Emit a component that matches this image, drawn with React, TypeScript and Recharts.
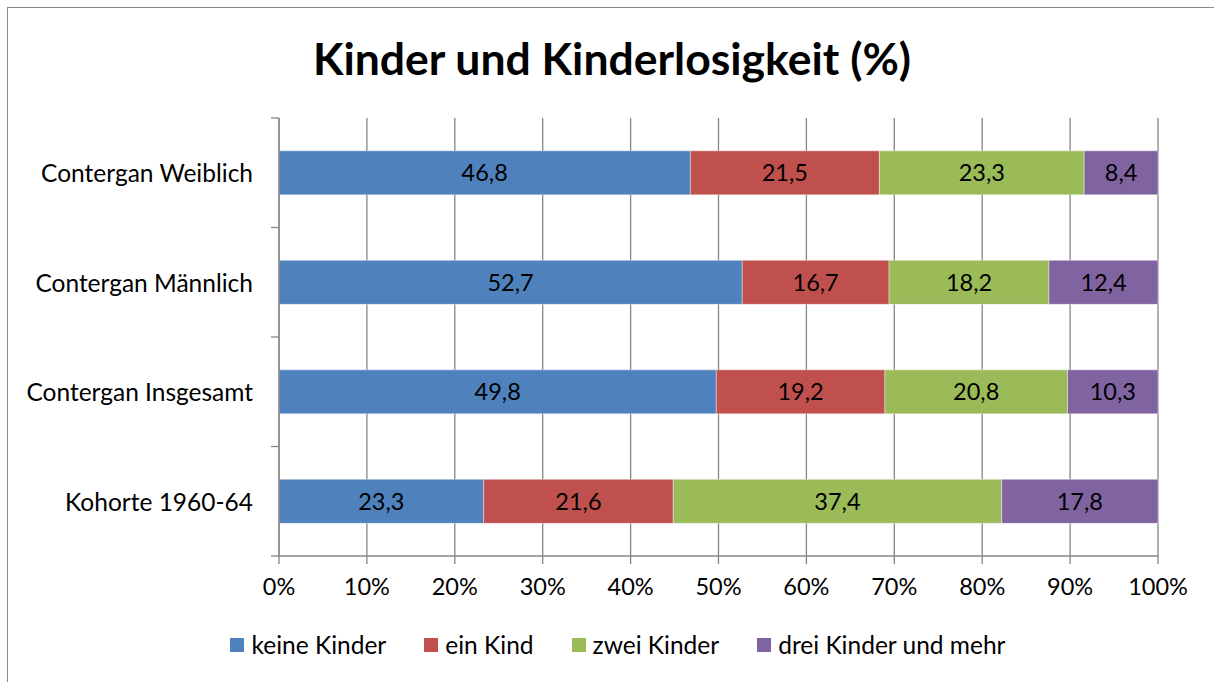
import React from 'react';
import {
  BarChart,
  Bar,
  XAxis,
  YAxis,
  CartesianGrid,
  Legend,
  LabelList,
} from 'recharts';

const categories = [
  'Contergan Weiblich',
  'Contergan Männlich',
  'Contergan Insgesamt',
  'Kohorte 1960-64',
];
const keineKinder = [46.8, 52.7, 49.8, 23.3];
const einKind = [21.5, 16.7, 19.2, 21.6];
const zweiKinder = [23.3, 18.2, 20.8, 37.4];
const dreiUndMehr = [8.4, 12.4, 10.3, 17.8];
const percentTicks = [0, 0.1, 0.2, 0.3, 0.4, 0.5, 0.6, 0.7, 0.8, 0.9, 1];

const series = [
  { key: 'keine', name: 'keine Kinder', color: '#4F81BD' },
  { key: 'ein', name: 'ein Kind', color: '#C0504D' },
  { key: 'zwei', name: 'zwei Kinder', color: '#9BBB59' },
  { key: 'drei', name: 'drei Kinder und mehr', color: '#8064A2' },
];

const data = categories.map((name, i) => ({
  name,
  keine: keineKinder[i],
  ein: einKind[i],
  zwei: zweiKinder[i],
  drei: dreiUndMehr[i],
}));

const FONT = 'Lato, "Open Sans", sans-serif';
const AXIS = '#868686';
const LABEL_GAP = 26;

const fmt = (v: number) => String(v).replace('.', ',');

// category tick: label plus Excel-style tick marks between the bands
const CategoryTick = (props: any) => {
  const { x, y, payload, index, visibleTicksCount } = props;
  const half = payload.offset || 0;
  const ax = x + LABEL_GAP;
  const last = index === (visibleTicksCount ?? categories.length) - 1;
  return (
    <g>
      <line x1={ax - 8} x2={ax} y1={y - half} y2={y - half} stroke={AXIS} strokeWidth={1.3} />
      {last && (
        <line x1={ax - 8} x2={ax} y1={y + half} y2={y + half} stroke={AXIS} strokeWidth={1.3} />
      )}
      <text
        x={x}
        y={y}
        textAnchor="end"
        dominantBaseline="central"
        fill="#000"
        fontSize={24.5}
        fontFamily={FONT}
      >
        {payload.value}
      </text>
    </g>
  );
};

const LegendContent = () => (
  <div
    style={{
      display: 'flex',
      justifyContent: 'center',
      gap: 38,
      fontFamily: FONT,
      fontSize: 24.5,
      color: '#000',
      paddingLeft: 78,
    }}
  >
    {series.map((s) => (
      <div key={s.key} style={{ display: 'flex', alignItems: 'center' }}>
        <span
          style={{
            display: 'inline-block',
            width: 14,
            height: 14,
            background: s.color,
            marginRight: 7,
          }}
        />
        {s.name}
      </div>
    ))}
  </div>
);

export default function App() {
  return (
    <div
      style={{
        position: 'absolute',
        left: 0,
        top: 0,
        width: 1214,
        height: 682,
        overflow: 'hidden',
        background: '#fff',
      }}
    >
      <div
        style={{
          position: 'absolute',
          left: 7,
          top: 7,
          width: 1240,
          height: 700,
          borderTop: '1.5px solid #8a8a8a',
          borderLeft: '1.5px solid #8a8a8a',
        }}
      />
      <div
        style={{
          position: 'absolute',
          left: 0,
          top: 31,
          width: 1224,
          textAlign: 'center',
          fontFamily: FONT,
          fontWeight: 'bold',
          fontSize: 44.5,
          color: '#000',
        }}
      >
        Kinder und Kinderlosigkeit (%)
      </div>
      <div style={{ position: 'absolute', left: 0, top: 0 }}>
        <BarChart
          width={1214}
          height={682}
          data={data}
          layout="vertical"
          stackOffset="expand"
          barCategoryGap="30%"
          margin={{ top: 118, right: 56, bottom: 12, left: 0 }}
        >
          <CartesianGrid horizontal={false} stroke={AXIS} strokeWidth={1.3} />
          <XAxis
            type="number"
            domain={[0, 1]}
            ticks={percentTicks}
            tickFormatter={(v: number) => `${Math.round(v * 100)}%`}
            height={74}
            tickSize={8}
            tickMargin={14}
            stroke={AXIS}
            strokeWidth={1.3}
            tick={{ fill: '#000', fontSize: 23.5, fontFamily: FONT }}
          />
          <YAxis
            type="category"
            dataKey="name"
            width={279}
            tickSize={0}
            tickMargin={LABEL_GAP}
            stroke={AXIS}
            strokeWidth={1.3}
            tickLine={false}
            tick={<CategoryTick />}
          />
          <Legend verticalAlign="bottom" height={40} content={<LegendContent />} />
          {series.map((s) => (
            <Bar
              key={s.key}
              dataKey={s.key}
              name={s.name}
              stackId="a"
              fill={s.color}
              stroke="#ffffff"
              strokeWidth={0.4}
              isAnimationActive={false}
            >
              <LabelList
                dataKey={s.key}
                position="center"
                formatter={(v: number) => fmt(v)}
                fill="#000"
                fontSize={23.5}
                fontFamily={FONT}
              />
            </Bar>
          ))}
        </BarChart>
      </div>
    </div>
  );
}
